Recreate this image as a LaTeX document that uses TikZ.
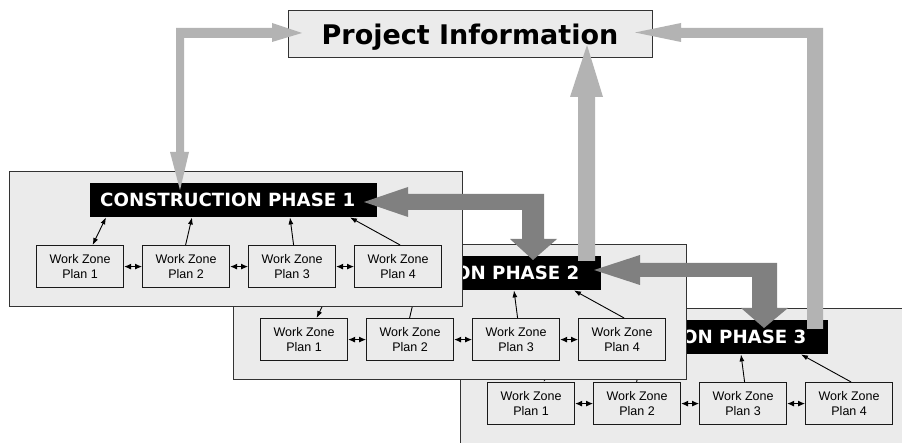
\documentclass[tikz,border=0pt]{standalone}
\usepackage{fontspec}
\setmainfont{Liberation Sans}
\newfontfamily\titlefont{DejaVu Sans}
\usetikzlibrary{arrows.meta}
\definecolor{panelgray}{HTML}{EBEBEB}
\definecolor{darkarrow}{HTML}{808080}
\definecolor{lightarrow}{HTML}{B3B3B3}
\definecolor{edgegray}{HTML}{333333}
\tikzset{
  panel/.style={draw=edgegray, fill=panelgray, line width=0.9pt, minimum width=453pt, inner sep=0pt, anchor=north west},
  titlebox/.style={fill=black, minimum width=287pt, minimum height=34pt, inner sep=0pt, anchor=north west},
  titletext/.style={anchor=west, inner sep=0pt, text=white, text height=13.3pt, text depth=0pt, font=\titlefont\bfseries\fontsize{18.2}{20}\selectfont},
  wz/.style={draw=black!90, fill=panelgray, line width=1.2pt, minimum width=87pt, minimum height=42pt, inner sep=0pt, align=center, anchor=north west, font=\fontsize{12.5}{15}\selectfont},
  info/.style={draw=edgegray, fill=panelgray, line width=0.8pt, minimum width=364pt, minimum height=47pt, inner sep=0pt, text height=23pt, text depth=0pt, font=\titlefont\bfseries\fontsize{27}{30}\selectfont},
  vline/.style={line width=0.9pt, -{Latex[length=7pt,width=5pt]}},
  dline/.style={line width=0.9pt, {Latex[length=7pt,width=5pt]}-{Latex[length=7pt,width=5pt]}},
  harrow/.style={line width=0.9pt, {Latex[length=7pt,width=6pt]}-{Latex[length=7pt,width=6pt]}},
  fatdark/.style={fill=darkarrow, draw=none},
  fatlight/.style={fill=lightarrow, draw=none}
}
\newcommand\phaseblock[5]{%
\begin{scope}[shift={(#2,#3)}]
  \node[panel, minimum height=#5] (#1) at (0,0) {};
  \node[titlebox] (#1t) at (81,12) {};
  \node[titletext] (#1l) at ([xshift=10pt]#1t.west) {#4};
  \node[wz] (#1w1) at (27,74) {Work Zone\\Plan 1};
  \node[wz] (#1w2) at (133,74) {Work Zone\\Plan 2};
  \node[wz] (#1w3) at (239,74) {Work Zone\\Plan 3};
  \node[wz] (#1w4) at (345,74) {Work Zone\\Plan 4};
  \draw[dline] ([xshift=12.5pt]#1w1.north) -- ([xshift=16pt]#1t.south west);
  \draw[vline] ([xshift=-0.5pt]#1w2.north) -- ([xshift=102pt]#1t.south west);
  \draw[vline] ([xshift=1.5pt]#1w3.north) -- ([xshift=200pt]#1t.south west);
  \draw[vline] ([xshift=2pt]#1w4.north) -- ([xshift=260pt]#1t.south west);
  \draw[harrow] (#1w1.east) -- (#1w2.west);
  \draw[harrow] (#1w2.east) -- (#1w3.west);
  \draw[harrow] (#1w3.east) -- (#1w4.west);
\end{scope}}
\begin{document}
\begin{tikzpicture}[x=1pt,y=-1pt]
  \fill[white] (0,0) rectangle (902,443);
  \path[use as bounding box, clip] (0,0) rectangle (902,443);
  \phaseblock{pc}{460}{308}{\phantom{CONSTRUCTI}ON PHASE 3}{150pt}
  \phaseblock{pb}{233}{244}{\phantom{CONSTRUCTI}ON PHASE 2}{135pt}
  \phaseblock{pa}{9}{171}{CONSTRUCTION PHASE 1}{135pt}
  \node[info] (info) at (470,33.5) {Project Information};
  % dark arrow between phase 1 and phase 2
  \fill[fatdark] (364,202) -- (408,187) -- (408,194) -- (544,194) -- (544,239) -- (557,239)
     -- (533,260) -- (510,239) -- (522,239) -- (522,210) -- (408,210) -- (408,217) -- cycle;
  % dark arrow between phase 2 and phase 3
  \fill[fatdark] (594,270) -- (640,255) -- (640,263) -- (777,263) -- (777,308) -- (788,308)
     -- (764,328) -- (741,308) -- (752,308) -- (752,277) -- (640,277) -- (640,285) -- cycle;
  % light arrow project info <-> phase 1
  \fill[fatlight] (302,33) -- (272,23) -- (272,28) -- (176,28) -- (176,152) -- (170,152)
     -- (180,190) -- (189,152) -- (184,152) -- (184,38) -- (272,38) -- (272,42) -- cycle;
  % light arrow phase 2 -> project info
  \fill[fatlight] (578,261) -- (578,97) -- (570,97) -- (587,45) -- (603,97) -- (595,97) -- (595,261) -- cycle;
  % light arrow phase 3 -> project info
  \fill[fatlight] (807,329) -- (807,38) -- (681,38) -- (681,42) -- (635,32.5) -- (681,23)
     -- (681,28) -- (823,28) -- (823,329) -- cycle;
\end{tikzpicture}
\end{document}
